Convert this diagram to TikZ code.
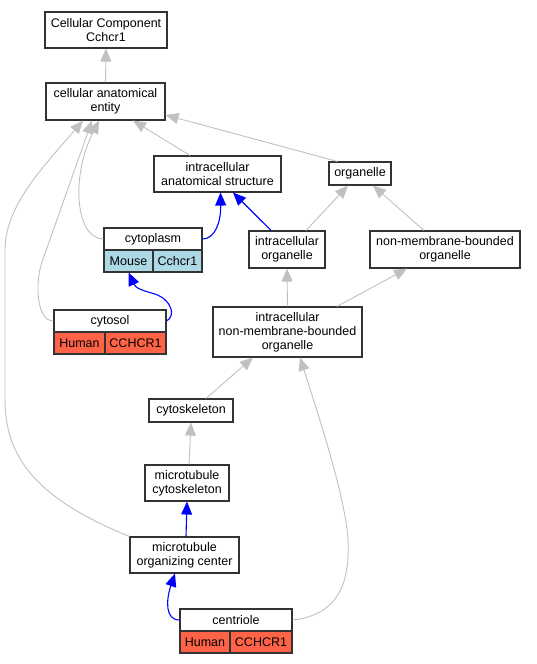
\documentclass[tikz,border=0pt]{standalone}
\usepackage{fontspec}
\setmainfont{Liberation Sans}
\usetikzlibrary{arrows.meta}
\definecolor{isagray}{HTML}{C0C0C0}
\definecolor{mouseblue}{HTML}{ADD8E6}
\definecolor{humanred}{HTML}{FF6347}
\begin{document}
\begin{tikzpicture}[x=1pt,y=-1pt,
	term/.style={draw=black!80,line width=1.1pt,fill=white,inner sep=0pt,align=center,font=\fontsize{12.5}{14}\selectfont},
	isa/.style={draw=isagray,line width=0.9pt,-{Triangle[length=13pt,width=11pt]}},
	blueisa/.style={isa,draw=blue,line width=1.1pt}]
	\useasboundingbox (0,0) rectangle (536,664);
	\node[term,minimum width=122,minimum height=36] (ccomp) at (106,30) {Cellular Component\\Cchcr1};
	\node[term,minimum width=119,minimum height=37] (cae) at (105.5,101.5) {cellular anatomical\\entity};
	\node[term,minimum width=127,minimum height=36] (ias) at (217.5,174) {intracellular\\anatomical structure};
	\node[term,minimum width=62,minimum height=23] (organelle) at (360,173.5) {organelle};
	\node[term,minimum width=98,minimum height=22] (cyto) at (153,239) {cytoplasm};
	\node[term,fill=mouseblue,minimum width=49,minimum height=22] (cytoA) at (128.5,261) {Mouse};
	\node[term,fill=mouseblue,minimum width=49,minimum height=22] (cytoB) at (177.5,261) {Cchcr1};
	\node[term,minimum width=76,minimum height=37] (iorg) at (287,249.5) {intracellular\\organelle};
	\node[term,minimum width=150,minimum height=37] (nmbo) at (445,249.5) {non-membrane-bounded\\organelle};
	\node[term,minimum width=112,minimum height=22] (cytosol) at (110,321) {cytosol};
	\node[term,fill=humanred,minimum width=51,minimum height=22] (cytosolA) at (79.5,343) {Human};
	\node[term,fill=humanred,minimum width=61,minimum height=22] (cytosolB) at (135.5,343) {CCHCR1};
	\node[term,minimum width=149,minimum height=50] (inmbo) at (287.5,332) {intracellular\\non-membrane-bounded\\organelle};
	\node[term,minimum width=84,minimum height=23] (cytoskel) at (191,410.5) {cytoskeleton};
	\node[term,minimum width=84,minimum height=36] (mtc) at (187,483) {microtubule\\cytoskeleton};
	\node[term,minimum width=109,minimum height=36] (mtoc) at (184.5,555) {microtubule\\organizing center};
	\node[term,minimum width=112,minimum height=22] (centriole) at (236,620) {centriole};
	\node[term,fill=humanred,minimum width=50,minimum height=22] (centrioleA) at (205,642) {Human};
	\node[term,fill=humanred,minimum width=62,minimum height=22] (centrioleB) at (261,642) {CCHCR1};

	\draw[isa] (cae.north) -- (ccomp.south);
	\draw[isa] ([xshift=-27.5]ias.north) -- ([xshift=27.5]cae.south);
	\draw[isa] ([xshift=9]organelle.north west) -- ([yshift=-13.5]cae.east);
	\draw[isa] (cyto.west) .. controls (76,239) and (70,178) .. ([xshift=-6.5]cae.south);
	\draw[isa] (cytosol.west) .. controls (36,321) and (35,282) .. (42,262) -- ([xshift=-13.5]cae.south);
	\draw[isa] (mtoc.north west) .. controls (40,500) and (5,460) .. (5,400) -- (5,250) .. controls (5,205) and (45,165) .. ([xshift=-22.5]cae.south);
	\draw[blueisa] (cyto.east) .. controls (215,239) and (221,222) .. ([xshift=3]ias.south);
	\draw[blueisa] ([xshift=-16]iorg.north) -- ([xshift=15.5]ias.south);
	\draw[isa] ([xshift=19]iorg.north) -- ([xshift=-12]organelle.south);
	\draw[isa] ([xshift=-21]nmbo.north) -- ([xshift=13]organelle.south);
	\draw[blueisa] (cytosol.east) .. controls (176,316) and (172,300) .. (155,294) .. controls (145,291) and (136,289) .. (cytoA.south);
	\draw[isa] (inmbo.north) -- (iorg.south);
	\draw[isa] ([xshift=49.5]inmbo.north) -- ([xshift=-38]nmbo.south);
	\draw[isa] ([xshift=15]cytoskel.north) -- ([xshift=-34.5]inmbo.south);
	\draw[isa] ([xshift=2]mtc.north) -- (cytoskel.south);
	\draw[blueisa] ([xshift=1.5]mtoc.north) -- (mtc.south);
	\draw[blueisa] (centriole.west) .. controls (165,620) and (166,600) .. ([xshift=-9.5]mtoc.south);
	\draw[isa] (centriole.east) .. controls (340,615) and (350,580) .. (348,540) .. controls (346,500) and (320,420) .. ([xshift=12.5]inmbo.south);
\end{tikzpicture}
\end{document}
